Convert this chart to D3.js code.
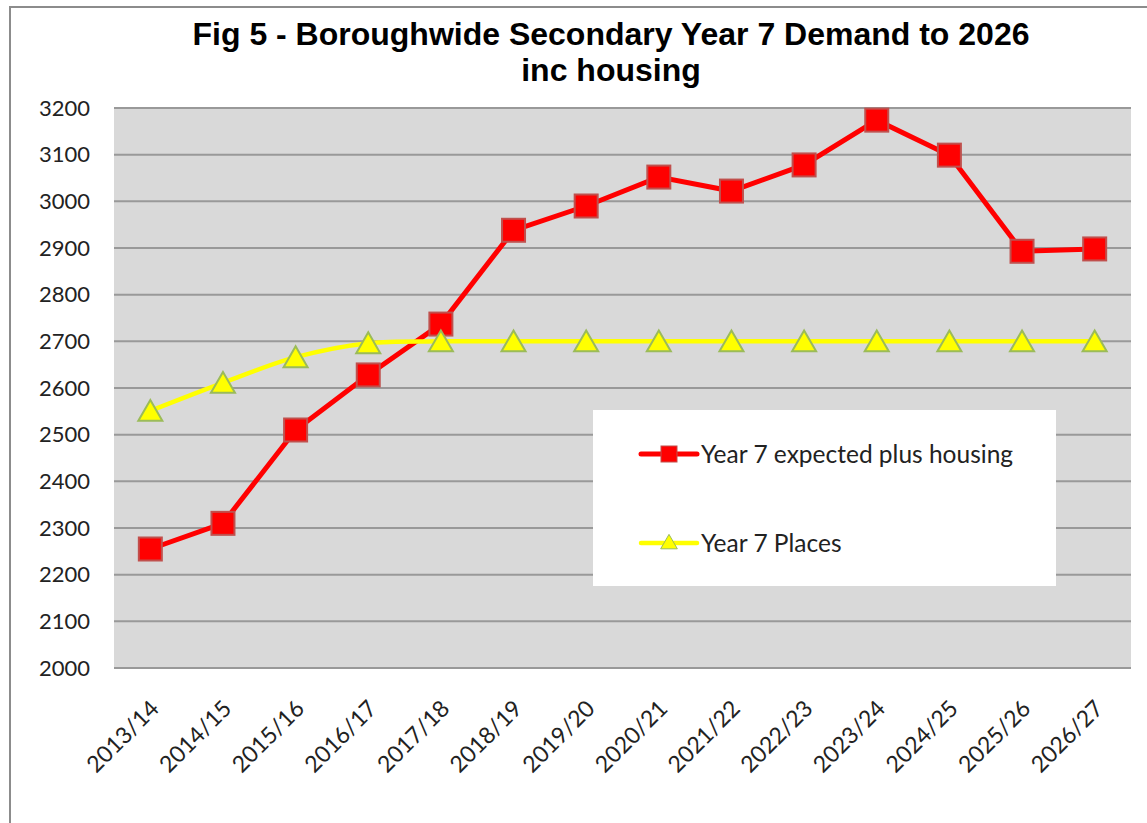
<!DOCTYPE html>
<html>
<head>
<meta charset="utf-8">
<script src="https://cdn.jsdelivr.net/npm/d3@7"></script>
<style>
  body { margin: 0; background: #fff; }
  .tick text { font-family: Lato, "Open Sans", sans-serif; fill: #222; }
</style>
</head>
<body>
<div class="chart"></div>
<script>
const years = ["2013/14", "2014/15", "2015/16", "2016/17", "2017/18", "2018/19", "2019/20",
  "2020/21", "2021/22", "2022/23", "2023/24", "2024/25", "2025/26", "2026/27"]
const expected = [2255, 2310, 2510, 2628, 2737, 2938, 2990, 3052, 3022, 3078, 3174, 3099, 2893, 2898]
const places = [2551, 2611, 2666, 2696, 2700, 2700, 2700, 2700, 2700, 2700, 2700, 2700, 2700, 2700]
const yTicks = [2000, 2100, 2200, 2300, 2400, 2500, 2600, 2700, 2800, 2900, 3000, 3100, 3200]

const svgWidth = 1147
const svgHeight = 823

let margin = { top: 108, right: 16, left: 114, bottom: 155 }
let width = svgWidth - margin.left - margin.right
let height = svgHeight - margin.top - margin.bottom

let svg = d3.select(".chart")
  .append("svg")
  .attr("width", svgWidth)
  .attr("height", svgHeight)

// outer chart border (runs off the right / bottom of the picture)
svg.append("rect")
  .attr("x", 10).attr("y", 7)
  .attr("width", svgWidth + 20).attr("height", svgHeight + 20)
  .attr("fill", "none")
  .attr("stroke", "#8c8c8c")
  .attr("stroke-width", 2)

let title = svg.append("text")
  .attr("text-anchor", "middle")
  .attr("font-family", "'Liberation Sans', Arial, sans-serif")
  .attr("font-weight", "bold")
  .attr("font-size", 32)
  .attr("fill", "#000")
title.append("tspan").attr("x", 611).attr("y", 45).text("Fig 5 - Boroughwide Secondary Year 7 Demand to 2026")
title.append("tspan").attr("x", 611).attr("y", 81).text("inc housing")

let chartGroup = svg.append("g")
  .attr("transform", `translate(${margin.left}, ${margin.top})`)

let x = d3.scaleBand().domain(years).range([0, width])
let y = d3.scaleLinear().domain([2000, 3200]).range([height, 0])
let cx = d => x(d) + x.bandwidth() / 2

chartGroup.append("rect")
  .attr("width", width).attr("height", height)
  .attr("fill", "#d9d9d9")

chartGroup.append("g")
  .selectAll("line")
  .data(yTicks)
  .enter()
  .append("line")
  .attr("x1", 0).attr("x2", width)
  .attr("y1", d => y(d)).attr("y2", d => y(d))
  .attr("stroke", "#999")
  .attr("stroke-width", 2)

let leftAxis = d3.axisLeft(y).tickValues(yTicks).tickFormat(d3.format("d")).tickSize(0).tickPadding(24)
let yAxis = chartGroup.append("g").call(leftAxis)
yAxis.select(".domain").remove()
yAxis.selectAll("text").attr("font-size", 22)

let bottomAxis = d3.axisBottom(x).tickSize(0)
let xAxis = chartGroup.append("g")
  .attr("transform", `translate(0, ${height})`)
  .call(bottomAxis)
xAxis.select(".domain").remove()
xAxis.selectAll("text")
  .attr("font-size", 23)
  .attr("text-anchor", "end")
  .attr("x", 0).attr("y", 0).attr("dy", 0)
  .attr("transform", "translate(10, 42) rotate(-45)")

let line = d3.line().x((d, i) => cx(years[i])).y(d => y(d))

// red series first, Excel style
chartGroup.append("path")
  .datum(expected)
  .attr("d", line)
  .attr("fill", "none")
  .attr("stroke", "#ff0000")
  .attr("stroke-width", 5)

chartGroup.selectAll(".sq")
  .data(expected)
  .enter()
  .append("rect")
  .attr("class", "sq")
  .attr("x", (d, i) => cx(years[i]) - 11.5)
  .attr("y", d => y(d) - 11.5)
  .attr("width", 23).attr("height", 23)
  .attr("fill", "#ff0000")
  .attr("stroke", "#c0504d")
  .attr("stroke-width", 2)

chartGroup.append("path")
  .datum(places)
  .attr("d", line.curve(d3.curveCatmullRom))
  .attr("fill", "none")
  .attr("stroke", "#ffff00")
  .attr("stroke-width", 4.5)

let tri = d3.symbol().type(d3.symbolTriangle).size(250)

chartGroup.selectAll(".tri")
  .data(places)
  .enter()
  .append("path")
  .attr("class", "tri")
  .attr("d", tri)
  .attr("transform", (d, i) => `translate(${cx(years[i])}, ${y(d) + 3})`)
  .attr("fill", "#ffff00")
  .attr("stroke", "#9bbb59")
  .attr("stroke-width", 2)

// legend
let legend = svg.append("g").attr("transform", "translate(593, 410)")
legend.append("rect")
  .attr("width", 463).attr("height", 176)
  .attr("fill", "#fff")

let items = [
  { name: "Year 7 expected plus housing", color: "#ff0000", w: 5, mark: "sq" },
  { name: "Year 7 Places", color: "#ffff00", w: 4.5, mark: "tri" }
]
items.forEach((it, i) => {
  let g = legend.append("g").attr("transform", `translate(0, ${44 + i * 89})`)
  g.append("line")
    .attr("x1", 48).attr("x2", 104)
    .attr("stroke", it.color).attr("stroke-width", it.w)
    .attr("stroke-linecap", "round")
  if (it.mark == "sq") {
    g.append("rect").attr("x", 76 - 8).attr("y", -8).attr("width", 16).attr("height", 16)
      .attr("fill", "#ff0000").attr("stroke", "#c0504d").attr("stroke-width", 1)
  } else {
    g.append("path").attr("d", d3.symbol().type(d3.symbolTriangle).size(120))
      .attr("transform", "translate(76, 1)")
      .attr("fill", "#ffff00").attr("stroke", "#9bbb59").attr("stroke-width", 1)
  }
  g.append("text")
    .attr("x", 108).attr("y", 0).attr("dy", "0.35em")
    .attr("font-family", "Lato, 'Open Sans', sans-serif")
    .attr("font-size", 24.5)
    .attr("fill", "#222")
    .text(it.name)
})
</script>
</body>
</html>
